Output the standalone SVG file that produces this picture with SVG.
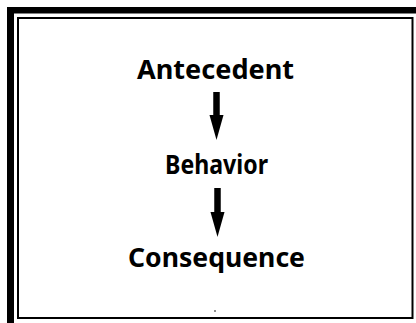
<svg xmlns="http://www.w3.org/2000/svg" width="416" height="323" viewBox="0 0 416 323">
<style>
.lbl{font-family:"Noto Sans","Open Sans","Liberation Sans",sans-serif;font-weight:bold;font-size:27px;fill:#000;text-anchor:middle}
.shaft{stroke:#000;stroke-width:6.5;fill:none}
</style>
<rect width="416" height="323" fill="#fff"/>
<g id="frame">
<rect x="7" y="7" width="409" height="6.5" fill="#000"/>
<rect x="7" y="7" width="7" height="316" fill="#000"/>
<rect x="18" y="18" width="394.5" height="300" fill="none" stroke="#000" stroke-width="2"/>
<circle cx="215" cy="311" r="0.8" fill="#000"/>
</g>
<g id="connectors">
<path class="shaft" d="M216.5,92 V116"/>
<path d="M209.5,115 L223.5,115 L216.5,140 Z" fill="#000"/>
<path class="shaft" d="M217.5,188 V213"/>
<path d="M210.5,212 L224.5,212 L217.5,237 Z" fill="#000"/>
</g>
<g id="antecedent"><text class="lbl" x="215.5" y="79" textLength="157" lengthAdjust="spacingAndGlyphs">Antecedent</text></g>
<g id="behavior"><text class="lbl" x="216.5" y="174" textLength="103" lengthAdjust="spacingAndGlyphs">Behavior</text></g>
<g id="consequence"><text class="lbl" x="216.5" y="267" textLength="177" lengthAdjust="spacingAndGlyphs">Consequence</text></g>
</svg>
